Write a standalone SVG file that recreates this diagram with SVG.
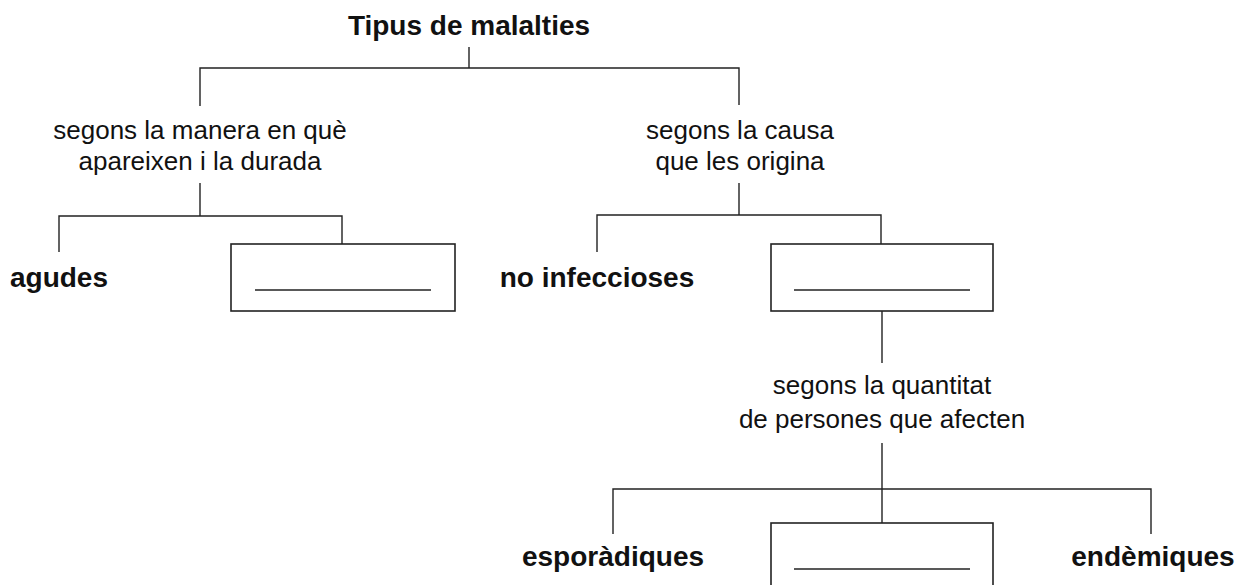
<svg xmlns="http://www.w3.org/2000/svg" width="1238" height="585" viewBox="0 0 1238 585">
<style>
.t{font-family:"Liberation Sans",Arial,sans-serif;fill:#111;text-anchor:middle}
.b{font-weight:bold;font-size:28px}
.r{font-size:26px}
.c{fill:none;stroke:#222;stroke-width:1.4}
.box{fill:#fff;stroke:#222;stroke-width:1.6}
.blank{stroke:#222;stroke-width:1.4}
</style>
<rect width="1238" height="585" fill="#fff"/>
<g id="connectors" class="c">
<path d="M469 47V68"/>
<path d="M200 106V68H739V105"/>
<path d="M200 183V216"/>
<path d="M59 252V216H342V244"/>
<path d="M739 183V215"/>
<path d="M597 252V215H881V244"/>
<path d="M882 311V363"/>
<path d="M882 443V523"/>
<path d="M613 534V489H1151V534"/>
</g>
<g id="title"><text class="t b" x="469" y="35">Tipus de malalties</text></g>
<g id="criteri-manera"><text class="t r" x="200" y="139">segons la manera en què</text><text class="t r" x="200" y="170">apareixen i la durada</text></g>
<g id="criteri-causa"><text class="t r" x="740" y="139">segons la causa</text><text class="t r" x="740" y="170">que les origina</text></g>
<g id="agudes"><text class="t b" x="59" y="287">agudes</text></g>
<g id="blank1"><rect class="box" x="231" y="244" width="224" height="67"/><line class="blank" x1="255" y1="290" x2="431" y2="290"/></g>
<g id="no-infeccioses"><text class="t b" x="597" y="287">no infeccioses</text></g>
<g id="blank2"><rect class="box" x="771" y="244" width="222" height="67"/><line class="blank" x1="794" y1="290" x2="970" y2="290"/></g>
<g id="criteri-quantitat"><text class="t r" x="882" y="394">segons la quantitat</text><text class="t r" x="882" y="428">de persones que afecten</text></g>
<g id="esporadiques"><text class="t b" x="613" y="566">esporàdiques</text></g>
<g id="blank3"><rect class="box" x="771" y="523" width="222" height="90"/><line class="blank" x1="794" y1="569" x2="970" y2="569"/></g>
<g id="endemiques"><text class="t b" x="1153" y="566">endèmiques</text></g>
</svg>
